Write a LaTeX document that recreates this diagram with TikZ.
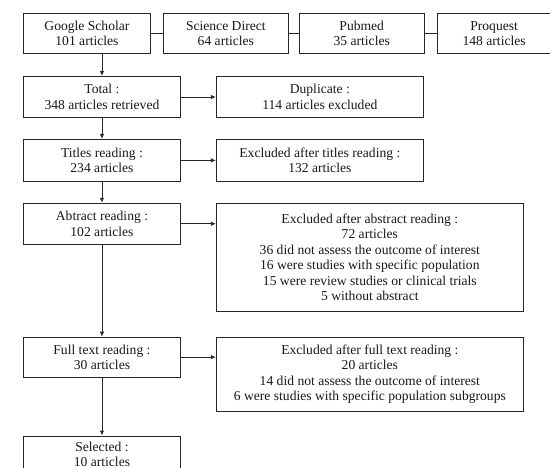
\documentclass[tikz,border=0pt]{standalone}
\usepackage{fontspec}
\setmainfont{Liberation Serif}
\usetikzlibrary{arrows.meta}

\begin{document}
\begin{tikzpicture}[x=1pt,y=-1pt]

      \tikzstyle{FlowBlock} = [
      rectangle,
      draw=black!85,
      line width=0.9pt,
      fill=white,
      inner sep=0pt,
      align=center,
      anchor=north west,
      text=black!90,
      font=\fontsize{13.6}{15.5}\selectfont
      ]
      \tikzstyle{FlowLine} = [
      draw=black!85,
      line width=0.9pt
      ]
      \tikzstyle{FlowArrow} = [
      FlowLine,
      -{Latex[length=5pt,width=4.5pt]}
      ]

      \useasboundingbox (0,0) rectangle (550,467);
      \clip (0,0) rectangle (550,467);

      % databases
      \node (GoogleScholar) [FlowBlock, minimum width=127pt, minimum height=40pt] at (23,13) {
        Google Scholar\\
        101 articles
      };
      \node (ScienceDirect) [FlowBlock, minimum width=125pt, minimum height=40pt]
      at ([xshift=12pt] GoogleScholar.north east) {
        Science Direct\\
        64 articles
      };
      \node (Pubmed) [FlowBlock, minimum width=125pt, minimum height=40pt]
      at ([xshift=10pt] ScienceDirect.north east) {
        Pubmed\\
        35 articles
      };
      \node (Proquest) [FlowBlock, minimum width=114pt, minimum height=40pt]
      at ([xshift=12pt] Pubmed.north east) {
        Proquest\\
        148 articles
      };

      % selection steps
      \node (Total) [FlowBlock, minimum width=157pt, minimum height=41pt] at (23,76) {
        Total :\\
        348 articles retrieved
      };
      \node (Titles) [FlowBlock, minimum width=157pt, minimum height=42pt]
      at ([yshift=-21pt] Total.south west) {
        Titles reading :\\
        234 articles
      };
      \node (Abstract) [FlowBlock, minimum width=157pt, minimum height=41pt]
      at ([yshift=-21pt] Titles.south west) {
        Abtract reading :\\
        102 articles
      };
      \node (FullText) [FlowBlock, minimum width=157pt, minimum height=40pt]
      at ([yshift=-92pt] Abstract.south west) {
        Full text reading :\\
        30 articles
      };
      \node (Selected) [FlowBlock, minimum width=157pt, minimum height=37pt]
      at ([yshift=-58pt] FullText.south west) {
        Selected :\\
        10 articles
      };

      % exclusions
      \node (Duplicate) [FlowBlock, minimum width=207pt, minimum height=41pt]
      at ([xshift=35pt] Total.north east) {
        Duplicate :\\
        114 articles excluded
      };
      \node (ExclTitles) [FlowBlock, minimum width=207pt, minimum height=42pt]
      at ([xshift=35pt] Titles.north east) {
        Excluded after titles reading :\\
        132 articles
      };
      \node (ExclAbstract) [FlowBlock, minimum width=307pt, minimum height=108pt]
      at ([xshift=35pt] Abstract.north east) {
        Excluded after abstract reading :\\
        72 articles\\
        36 did not assess the outcome of interest\\
        16 were studies with specific population\\
        15 were review studies or clinical trials\\
        5 without abstract
      };
      \node (ExclFullText) [FlowBlock, minimum width=307pt, minimum height=74pt]
      at ([xshift=35pt] FullText.north east) {
        Excluded after full text reading :\\
        20 articles\\
        14 did not assess the outcome of interest\\
        6 were studies with specific population subgroups
      };

      \draw [FlowLine] (GoogleScholar) -- (ScienceDirect);
      \draw [FlowLine] (ScienceDirect) -- (Pubmed);
      \draw [FlowLine] (Pubmed) -- (Proquest);

      \draw [FlowArrow] (Total.north |- GoogleScholar.south) -- (Total.north);
      \draw [FlowArrow] (Total) -- (Titles);
      \draw [FlowArrow] (Titles) -- (Abstract);
      \draw [FlowArrow] (Abstract) -- (FullText);
      \draw [FlowArrow] (FullText) -- (Selected);

      \draw [FlowArrow] (Total.east) -- (Total.east -| Duplicate.west);
      \draw [FlowArrow] (Titles.east) -- (Titles.east -| ExclTitles.west);
      \draw [FlowArrow] (Abstract.east) -- (Abstract.east -| ExclAbstract.west);
      \draw [FlowArrow] (FullText.east) -- (FullText.east -| ExclFullText.west);

    \end{tikzpicture}
\end{document}
